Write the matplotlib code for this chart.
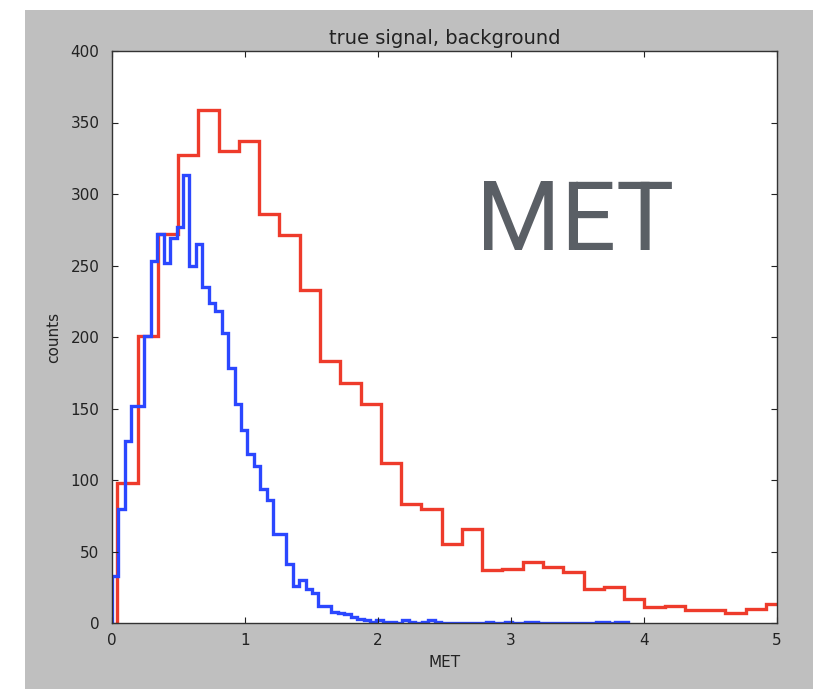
import numpy as np
import matplotlib
matplotlib.use('Agg')
import matplotlib.pyplot as plt
from matplotlib.patches import Rectangle

# bin edges
red_lo, red_hi, red_nbins = 0.04, 5.07, 33
blue_lo, blue_hi, blue_nbins = 0.0, 3.88, 80

# counts per bin
red_counts = [98, 201, 272, 327, 359, 330, 337, 286, 271, 233, 183, 168, 153,
              112, 83, 80, 55, 66, 37, 38, 43, 39, 36, 24, 25, 17, 11, 12, 9,
              9, 7, 10, 13]
blue_counts = [33, 80, 127, 152, 152, 201, 253, 272, 252, 269, 277, 313, 250,
               265, 235, 224, 218, 203, 178, 153, 135, 118, 110, 94, 86, 62,
               62, 41, 26, 30, 24, 21, 12, 12, 8, 7, 6, 4, 3, 2, 1, 2, 1, 1,
               0, 2, 1, 0, 1, 2, 1, 0, 0, 0, 0, 0, 0, 0, 1, 0, 0, 1, 0, 0, 1,
               1, 0, 0, 0, 0, 0, 0, 0, 0, 0, 1, 1, 0, 1, 1]

xticks = [0, 1, 2, 3, 4, 5]
yticks = [0, 50, 100, 150, 200, 250, 300, 350, 400]

red_edges = np.linspace(red_lo, red_hi, red_nbins + 1)
blue_edges = np.linspace(blue_lo, blue_hi, blue_nbins + 1)

plt.rcParams['font.family'] = ['DejaVu Sans']

fig = plt.figure(figsize=(8.13, 6.89), dpi=100, facecolor='white')
# grey window backdrop
fig.patches.append(Rectangle((25 / 813, 0), 1 - 25 / 813, 1 - 10 / 689,
                             transform=fig.transFigure, facecolor='#bfbfbf',
                             edgecolor='none', zorder=-10))

ax = fig.add_axes([112 / 813, 1 - 623 / 689, 665 / 813, 572 / 689])
ax.set_facecolor('white')

ax.stairs(red_counts, red_edges, color='#ee3b2b', lw=2.4)
ax.stairs(blue_counts, blue_edges, color='#2b47ff', lw=2.4)

ax.set_xlim(0, 5)
ax.set_ylim(0, 400)
ax.set_xticks(xticks)
ax.set_yticks(yticks)
ax.tick_params(direction='in', top=True, right=True, length=4,
               labelsize=11, colors='#222222')
ax.tick_params(axis='y', pad=9)
ax.tick_params(axis='x', pad=7)
for sp in ax.spines.values():
    sp.set_color('#333333')
    sp.set_linewidth(1.0)

ax.set_xlabel('MET', fontsize=11, color='#222222', labelpad=5)
ax.set_ylabel('counts', fontsize=11, color='#222222', labelpad=7)
ax.set_title('true signal, background', fontsize=14, color='#222222', pad=5)

# big overlay label
ax.text(3.485, 279, 'MET', fontsize=70, color='#5a5f65', ha='center',
        va='center', family=['Roboto', 'DejaVu Sans'], fontweight='normal')

fig.savefig('out.png', dpi=100, facecolor=fig.get_facecolor())
